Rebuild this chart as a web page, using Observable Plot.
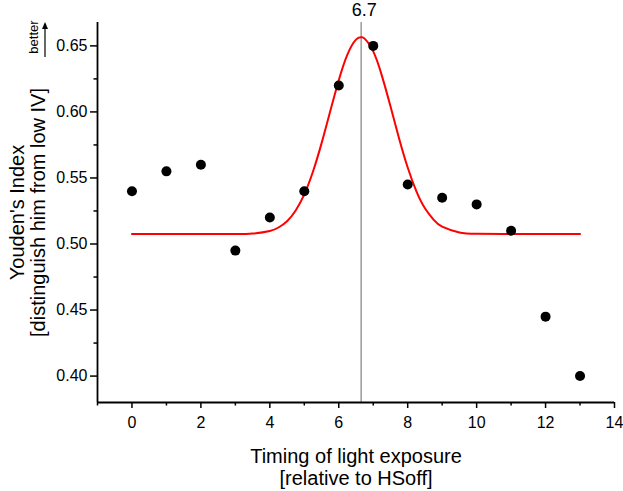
<!DOCTYPE html>
<html>
<head>
<meta charset="utf-8">
<script src="https://cdn.jsdelivr.net/npm/d3@7"></script>
<script src="https://cdn.jsdelivr.net/npm/@observablehq/plot@0.6"></script>
<style>
  body { margin: 0; background: #fff; }
  #chart svg { display: block; overflow: visible; }
</style>
</head>
<body>
<div id="chart"></div>
<script>
// Measured points
const timing = [0, 1, 2, 3, 4, 5, 6, 7, 8, 9, 10, 11, 12, 13];
const youden = [0.54, 0.555, 0.56, 0.495, 0.52, 0.54, 0.62, 0.65, 0.545, 0.535, 0.53, 0.51, 0.445, 0.40];

// Fitted curve
const fitX = [0, 1, 2, 3, 3.5, 4, 4.25, 4.5, 4.75, 5, 5.25, 5.5, 5.75, 6, 6.25, 6.5, 6.65, 6.75, 7, 7.25, 7.5, 7.75, 8, 8.25, 8.5, 8.75, 9, 9.5, 10, 11, 12, 13];
const fitY = [0.5075, 0.5075, 0.5075, 0.5075, 0.5079, 0.5099, 0.5125, 0.5173, 0.5254, 0.5376, 0.5547, 0.5762, 0.6003, 0.6240, 0.6434, 0.6547, 0.6565, 0.6555, 0.6458, 0.6275, 0.6043, 0.5799, 0.5579, 0.5400, 0.5270, 0.5184, 0.5131, 0.5087, 0.5077, 0.5075, 0.5075, 0.5075];

// Peak marker
const peakX = [6.65];
const peakLabel = ["6.7"];

// Axes
const xDomain = [-1, 14];
const yDomain = [0.38, 0.6677];
const xMajor = [0, 2, 4, 6, 8, 10, 12, 14];
const xMinor = [-1, 1, 3, 5, 7, 9, 11, 13];
const yMajor = [0.40, 0.45, 0.50, 0.55, 0.60, 0.65];
const yMinor = [0.425, 0.475, 0.525, 0.575, 0.625];
const xTitle = "Timing of light exposure\n[relative to HSoff]";
const yTitle = "Youden's Index\n[distinguish him from low IV]";
const betterLabel = "better";

const points = timing.map((t, i) => ({x: t, y: youden[i]}));
const fit = fitX.map((t, i) => ({x: t, y: fitY[i]}));

const font = "'Liberation Sans', Arial, Helvetica, sans-serif";

const plot = Plot.plot({
  width: 623,
  height: 491,
  marginLeft: 97,
  marginRight: 9,
  marginTop: 22,
  marginBottom: 89,
  style: {fontFamily: font, fontSize: "16px", color: "#000", background: "#fff"},
  x: {domain: xDomain},
  y: {domain: yDomain},
  marks: [
    Plot.ruleX(peakX, {stroke: "#9a9a9a", strokeWidth: 1.5}),
    Plot.line(fit, {x: "x", y: "y", stroke: "#ff0000", strokeWidth: 2, curve: "natural"}),
    Plot.dot(points, {x: "x", y: "y", r: 5, fill: "#000", stroke: "none"}),
    Plot.text(peakLabel, {x: peakX, frameAnchor: "top", text: d => d, dy: -12, dx: 3, lineAnchor: "middle", textAnchor: "middle", fontSize: 18, fill: "#000"}),
    Plot.ruleY([yDomain[0]], {stroke: "#000", strokeWidth: 1.8}),
    Plot.ruleX([xDomain[0]], {stroke: "#000", strokeWidth: 1.8}),
    Plot.axisX({ticks: xMajor, tickSize: 6, tickPadding: 8, tickFormat: d => String(d), label: null, fontSize: 16, stroke: "#000", strokeWidth: 1.5}),
    Plot.axisX({ticks: xMinor, tickSize: 3.5, tickFormat: () => "", label: null, stroke: "#000", strokeWidth: 1.5}),
    Plot.axisY({ticks: yMajor, tickSize: 7, tickPadding: 3, tickFormat: d3.format(".2f"), label: null, fontSize: 16, stroke: "#000", strokeWidth: 1.5}),
    Plot.axisY({ticks: yMinor, tickSize: 3.5, tickFormat: () => "", label: null, stroke: "#000", strokeWidth: 1.5}),
    Plot.text([xTitle], {frameAnchor: "bottom", text: d => d, dy: 45.5, lineAnchor: "top", textAnchor: "middle", lineHeight: 1.07, fontSize: 20, fill: "#000"}),
    Plot.text([yTitle], {frameAnchor: "left", text: d => d, dx: -88, rotate: -90, lineAnchor: "top", textAnchor: "middle", lineHeight: 1.05, fontSize: 20, fill: "#000"}),
    Plot.text([betterLabel], {frameAnchor: "top-left", text: d => d, dx: -64, dy: 14.5, rotate: -90, lineAnchor: "middle", textAnchor: "middle", fontSize: 13, fill: "#000"})
  ]
});

// "better" arrow in the left margin, anchored to the top of the frame
const svgSel = d3.select(plot);
const yRange = plot.scale("y").range; // [bottom, top]
const frameTop = Math.min(...yRange);
const arrowX = 45;
svgSel.append("line")
  .attr("x1", arrowX).attr("x2", arrowX)
  .attr("y1", frameTop + 35).attr("y2", frameTop + 5)
  .attr("stroke", "#000").attr("stroke-width", 1.2);
svgSel.append("path")
  .attr("d", `M${arrowX},${frameTop} L${arrowX - 3},${frameTop + 7} L${arrowX + 3},${frameTop + 7} Z`)
  .attr("fill", "#000");

document.getElementById("chart").appendChild(plot);
</script>
</body>
</html>
